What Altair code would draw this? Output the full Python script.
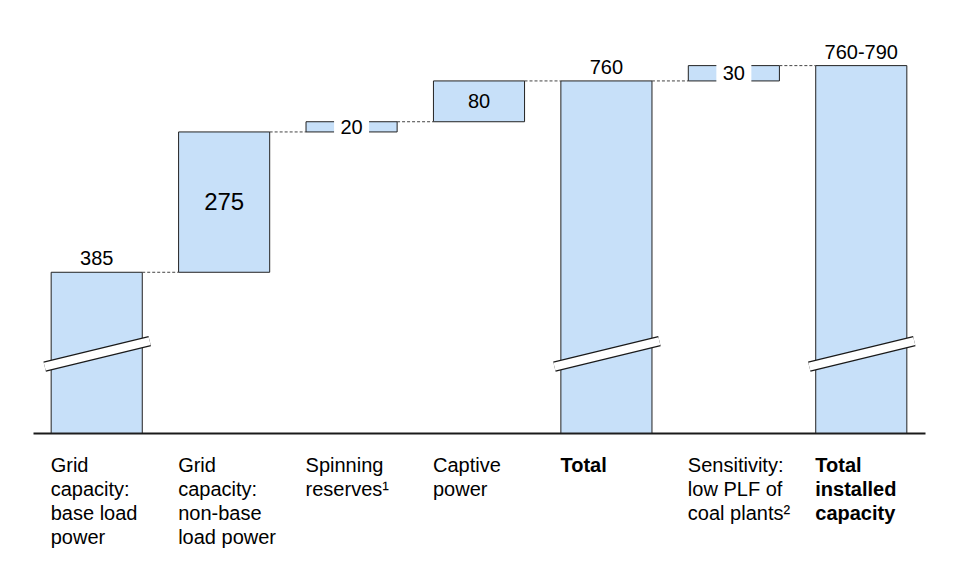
import altair as alt
import pandas as pd

# ---------------- data ----------------
CATEGORIES = [
    "Grid|capacity:|base load|power",
    "Grid|capacity:|non-base|load power",
    "Spinning|reserves¹",
    "Captive|power",
    "Total",
    "Sensitivity:|low PLF of|coal plants²",
    "Total|installed|capacity",
]
BOLD_CATEGORIES = ["Total", "Total|installed|capacity"]
AXIS_START = 70            # visible start of the broken value axis
STEP_VALUES = [385, 275, 20, 80]   # components of the Total
SENSITIVITY = 30
VALUE_LABELS = ["385", "275", "20", "80", "760", "30", "760-790"]
LABEL_PLACE = ["above", "inside", "boxed", "inside", "above", "boxed", "above"]
BREAK_LOW, BREAK_HIGH = 200, 250   # where the axis-break symbol crosses the bars

# waterfall geometry in data units
starts, ends = [], []
running = 0
for v in STEP_VALUES:
    starts.append(running if running > 0 else AXIS_START)
    ends.append(running + v)
    running += v
total = running
starts.append(AXIS_START); ends.append(total)
starts.append(total); ends.append(total + SENSITIVITY)
starts.append(AXIS_START); ends.append(total + SENSITIVITY)

bars = pd.DataFrame({
    "cat": CATEGORIES,
    "start": starts,
    "end": ends,
    "label": VALUE_LABELS,
    "place": LABEL_PLACE,
})
connectors = pd.DataFrame({
    "from": CATEGORIES[:-1],
    "to": CATEGORIES[1:],
    "level": ends[:-1],
})
breaks = bars[bars["start"] == AXIS_START][["cat"]].copy()
breaks["lo"] = BREAK_LOW
breaks["hi"] = BREAK_HIGH

FONT = "Liberation Sans"
xscale = alt.Scale(domain=CATEGORIES, paddingInner=0.285, paddingOuter=0.1425)
yscale = alt.Scale(domain=[AXIS_START, 850], nice=False, zero=False)

bold_test = " || ".join(f"datum.value == '{c}'" for c in BOLD_CATEGORIES)

x_axis = alt.Axis(
    title=None,
    labelExpr="split(datum.label, '|')",
    labelAngle=0,
    labelAlign="left",
    labelBaseline="top",
    labelOffset=-46,
    labelPadding=22,
    labelFontSize=20,
    labelLineHeight=24,
    labelColor="#000000",
    labelFont=FONT,
    labelOverlap=False,
    labelLimit=0,
    ticks=False,
    grid=False,
    domainColor="#1a1a1a",
    domainWidth=2,
    labelFontWeight={"condition": {"test": bold_test, "value": "bold"}, "value": "normal"},
)


def X(field, **kw):
    return alt.X(field, sort=CATEGORIES, scale=xscale, axis=x_axis, **kw)


base = alt.Chart(bars)

bar_layer = base.mark_bar(color="#c7e0f9", stroke="#222222", strokeWidth=1).encode(
    x=X("cat:N"),
    y=alt.Y("start:Q", scale=yscale, axis=None),
    y2="end:Q",
)

conn_layer = alt.Chart(connectors).mark_rule(
    color="#444444", strokeWidth=1, strokeDash=[3, 2], xOffset=45.5, x2Offset=-45.5
).encode(
    x=X("from:N", bandPosition=0.5),
    x2=alt.X2("to:N", bandPosition=0.5),
    y=alt.Y("level:Q", scale=yscale, axis=None),
)

box_layer = base.transform_filter("datum.place == 'boxed'").mark_bar(
    width=33, color="white", stroke="white", strokeWidth=2
).encode(
    x=X("cat:N"),
    y=alt.Y("start:Q", scale=yscale, axis=None),
    y2="end:Q",
)

break_enc = dict(
    x=X("cat:N", bandPosition=0.5),
    x2=alt.X2("cat:N", bandPosition=0.5),
    y=alt.Y("lo:Q", scale=yscale, axis=None),
    y2="hi:Q",
)
break_black = alt.Chart(breaks).mark_rule(
    color="#1a1a1a", strokeWidth=10.5, xOffset=-52, x2Offset=53
).encode(**break_enc)
break_white = alt.Chart(breaks).mark_rule(
    color="white", strokeWidth=8, xOffset=-52, x2Offset=53
).encode(**break_enc)

text_above = base.transform_filter("datum.place == 'above'").mark_text(
    font=FONT, fontSize=20, color="#000000", baseline="alphabetic", dy=-7
).encode(
    x=X("cat:N"),
    y=alt.Y("end:Q", scale=yscale, axis=None),
    text="label:N",
)

text_inside = base.transform_filter("datum.place != 'above'").transform_calculate(
    mid="(datum.start + datum.end) / 2"
).mark_text(
    font=FONT, color="#000000", baseline="middle", dy=1
).encode(
    x=X("cat:N"),
    y=alt.Y("mid:Q", scale=yscale, axis=None),
    text="label:N",
    size=alt.condition("datum.label == '275'", alt.value(24), alt.value(20)),
)

chart = alt.layer(
    bar_layer, conn_layer, box_layer, break_black, break_white, text_above, text_inside
).properties(
    width=892,
    height=398,
    autosize=alt.AutoSizeParams(type="none"),
    padding={"left": 25, "top": 27, "right": 31, "bottom": 125},
    background="white",
).configure_view(stroke=None)

chart.save("out.html", embed_options={"renderer": "svg", "actions": False})
